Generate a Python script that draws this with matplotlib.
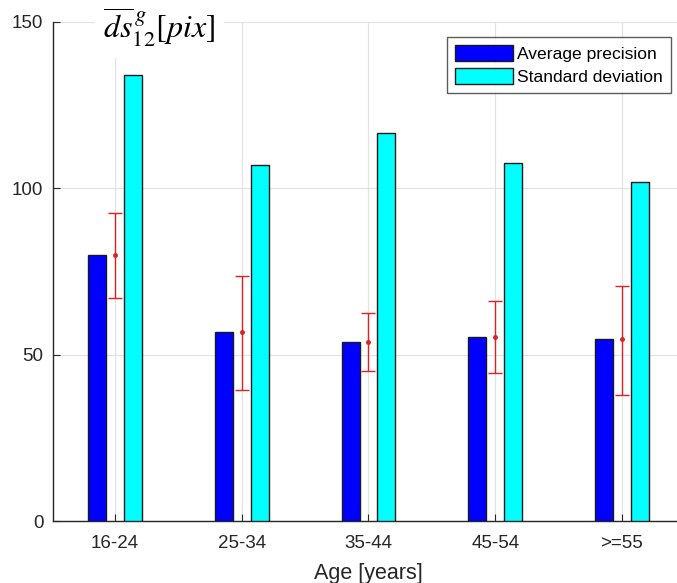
import matplotlib
matplotlib.use("Agg")
import matplotlib.pyplot as plt
import numpy as np

categories = ["16-24", "25-34", "35-44", "45-54", ">=55"]
avg_precision = [80, 56.8, 53.8, 55.3, 54.7]
std_deviation = [134, 107, 116.7, 107.6, 102]
err_upper = [92.5, 73.5, 62.5, 66, 70.6]
err_lower = [67, 39.4, 45, 44.5, 37.9]

plt.rcParams['font.family'] = ['Liberation Sans', 'DejaVu Sans']
plt.rcParams['mathtext.fontset'] = 'stix'

W, H = 677, 583
fig = plt.figure(figsize=(W/100, H/100), dpi=100)
ax = fig.add_axes([53/W, 62/H, (684-53)/W, (521-22)/H])

x = np.arange(1, len(categories)+1)
bw = 0.142
off = 0.142
axc = '#262626'

ax.bar(x - off, avg_precision, bw, color='#0000FF', edgecolor='#1a1a1a', linewidth=1.0, zorder=3, label='Average precision')
ax.bar(x + off, std_deviation, bw, color='#00FFFF', edgecolor='#1a1a1a', linewidth=1.0, zorder=3, label='Standard deviation')

avg = np.array(avg_precision)
yerr = np.vstack([avg - np.array(err_lower), np.array(err_upper) - avg])
ax.errorbar(x, avg, yerr=yerr, fmt='o', color='#DD2222', ecolor='#DD2222', markersize=2.5,
            elinewidth=1.0, capsize=4.7, capthick=1.0, zorder=4)

ax.set_xlim(0.51, 5.49)
ax.set_ylim(0, 150)
ax.set_xticks(x)
ax.set_xticklabels(categories)
ax.set_yticks([0, 50, 100, 150])
ax.grid(True, color='#e3e3e3', linewidth=0.9, zorder=0)
ax.set_axisbelow(True)
for s in ['top', 'right']:
    ax.spines[s].set_visible(False)
for s in ['left', 'bottom']:
    ax.spines[s].set_color(axc)
    ax.spines[s].set_linewidth(1.0)
ax.tick_params(direction='in', length=5, color=axc, labelcolor=axc, labelsize=13.5)
ax.tick_params(axis='x', pad=10)
ax.tick_params(axis='y', pad=7)
ax.set_xlabel('Age [years]', fontsize=15.5, color=axc, labelpad=8)

leg = ax.legend(loc='upper right', bbox_to_anchor=(671/W, 1 - 37/H), bbox_transform=fig.transFigure,
                borderaxespad=0, fontsize=12.6, frameon=True, fancybox=False, handlelength=3.3,
                handleheight=1.05, handletextpad=0.25, labelspacing=0.35, borderpad=0.45)
leg.get_frame().set_edgecolor('#333333')
leg.get_frame().set_linewidth(1.0)

fig.text(103/W, 1 - 39/H, r'$\overline{ds}^{\,g}_{12}[pix]$', fontsize=23, ha='left', va='baseline',
         bbox=dict(facecolor='white', edgecolor='none', pad=6))

fig.savefig('out.png', dpi=100)
